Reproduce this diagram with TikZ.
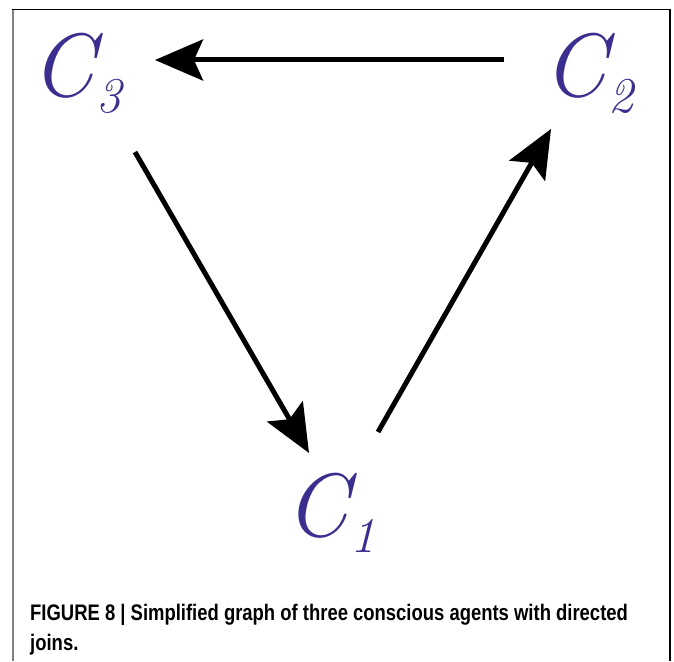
\documentclass[tikz,border=0pt]{standalone}
\usepackage{fontspec}
\usetikzlibrary{arrows.meta}
\newfontfamily\capfont{Liberation Sans}[FakeStretch=0.82]
\definecolor{agent}{RGB}{58,46,143}
\definecolor{leftrule}{RGB}{128,128,128}
\newcommand{\agentname}[1]{{\fontsize{90}{90}\selectfont\itshape C}\kern2pt\raisebox{-16pt}{\fontsize{50}{50}\selectfont\itshape #1}}
\tikzset{
  agentlbl/.style={inner sep=0pt, anchor=base west, text=agent},
  joinarrow/.style={line width=5pt, -{Stealth[length=48pt,width=41pt,inset=9pt]}},
  captxt/.style={inner sep=0pt, anchor=base west, font=\capfont\bfseries\fontsize{22.5}{26}\selectfont}
}
\begin{document}
\begin{tikzpicture}[x=1pt,y=-1pt]
\useasboundingbox (0,0) rectangle (674,661);
\fill[white] (0,0) rectangle (674,661);
% frame
\draw[leftrule, line width=2pt] (13,9) -- (13,661);
\draw[black, line width=1.5pt] (12,9.5) -- (670,9.5) -- (670,661);
% agents
\node[agentlbl] (C3) at (31,96) {\agentname{3}};
\node[agentlbl] (C2) at (543,96) {\agentname{2}};
\node[agentlbl] (C1) at (285,536) {\agentname{1}};
% connector ends
\coordinate (a1s) at (504,60);
\coordinate (a1e) at (155,60);
\coordinate (a2s) at (135,152);
\coordinate (a2e) at (309,453);
\coordinate (a3s) at (378,432);
\coordinate (a3e) at (551,129);
\draw[joinarrow] (a1s) -- (a1e);
\draw[joinarrow] (a2s) -- (a2e);
\draw[joinarrow] (a3s) -- (a3e);
% caption
\node[captxt] (cap1) at (30,620) {FIGURE 8 | Simplified graph of three conscious agents with directed};
\node[captxt] (cap2) at (30,650) {joins.};
\end{tikzpicture}
\end{document}
